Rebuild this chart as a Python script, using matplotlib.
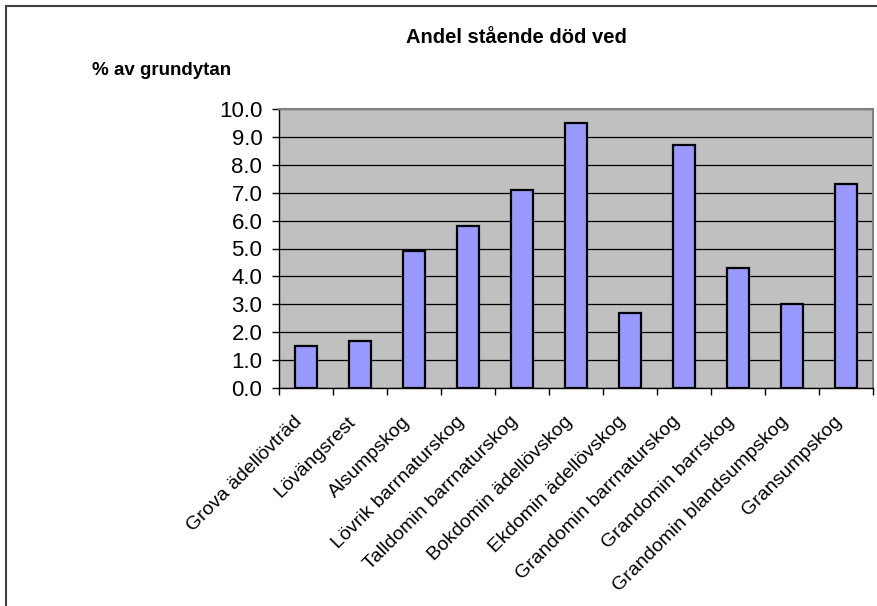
import matplotlib.pyplot as plt
from matplotlib.patches import Rectangle
from matplotlib.ticker import FixedLocator, FormatStrFormatter, NullLocator
from matplotlib.transforms import ScaledTranslation

plt.rcParams['font.family'] = ['Liberation Sans', 'DejaVu Sans']

# Andel stående död ved per naturtyp (% av grundytan)
categories = ['Grova ädellövträd', 'Lövängsrest', 'Alsumpskog', 'Lövrik barrnaturskog',
              'Talldomin barrnaturskog', 'Bokdomin ädellövskog', 'Ekdomin ädellövskog',
              'Grandomin barrnaturskog', 'Grandomin barrskog', 'Grandomin blandsumpskog',
              'Gransumpskog']
values = [1.5, 1.7, 4.9, 5.8, 7.1, 9.5, 2.7, 8.7, 4.3, 3.0, 7.3]
y_ticks = [0, 1, 2, 3, 4, 5, 6, 7, 8, 9, 10]

fig = plt.figure(figsize=(8.77, 6.06), dpi=100)
ax = fig.add_axes([279 / 877, 1 - 388 / 606, 594 / 877, 279 / 606])

x = list(range(len(categories)))
ax.set_facecolor('#C0C0C0')
ax.bar(x, values, width=0.4, color='#9999FF', edgecolor='black', linewidth=1.6, zorder=3)

ax.set_xlim(-0.5, len(categories) - 0.5)
ax.set_ylim(0, 10)
ax.set_yticks(y_ticks)
ax.yaxis.set_major_formatter(FormatStrFormatter('%.1f'))
ax.yaxis.grid(True, color='black', linewidth=0.9, zorder=1)
ax.set_axisbelow(True)

# tick marks on the category boundaries, rotated labels below each centre
ax.xaxis.set_major_locator(NullLocator())
ax.xaxis.set_minor_locator(FixedLocator([i - 0.5 for i in range(len(categories) + 1)]))
ax.tick_params(axis='x', which='minor', length=5, width=1, direction='out', color='black')
ax.tick_params(axis='y', length=5, width=1, direction='out', labelsize=16, pad=7)

label_offset = ScaledTranslation(-12.5 / 100, -25 / 100, fig.dpi_scale_trans)
for xi, name in zip(x, categories):
    ax.text(xi, 0, name, transform=ax.get_xaxis_transform() + label_offset,
            rotation=45, rotation_mode='anchor', ha='right', va='top', fontsize=14)

for side in ['top', 'right']:
    ax.spines[side].set_color('#808080')
    ax.spines[side].set_linewidth(1.5)
for side in ['left', 'bottom']:
    ax.spines[side].set_color('black')
    ax.spines[side].set_linewidth(1)

fig.text(516.5 / 877, 1 - 43 / 606, 'Andel stående död ved', ha='center', va='baseline',
         fontsize=14.5, fontweight='bold')
fig.text(92 / 877, 1 - 75 / 606, '% av grundytan', ha='left', va='baseline',
         fontsize=13.5, fontweight='bold')

# chart frame
fig.add_artist(Rectangle((5.5 / 877, -0.1), 1.0, 1.1 - 5.5 / 606, transform=fig.transFigure,
                         fill=False, edgecolor='#404040', linewidth=1.5))

fig.savefig('out.png', dpi=100, facecolor='white')
